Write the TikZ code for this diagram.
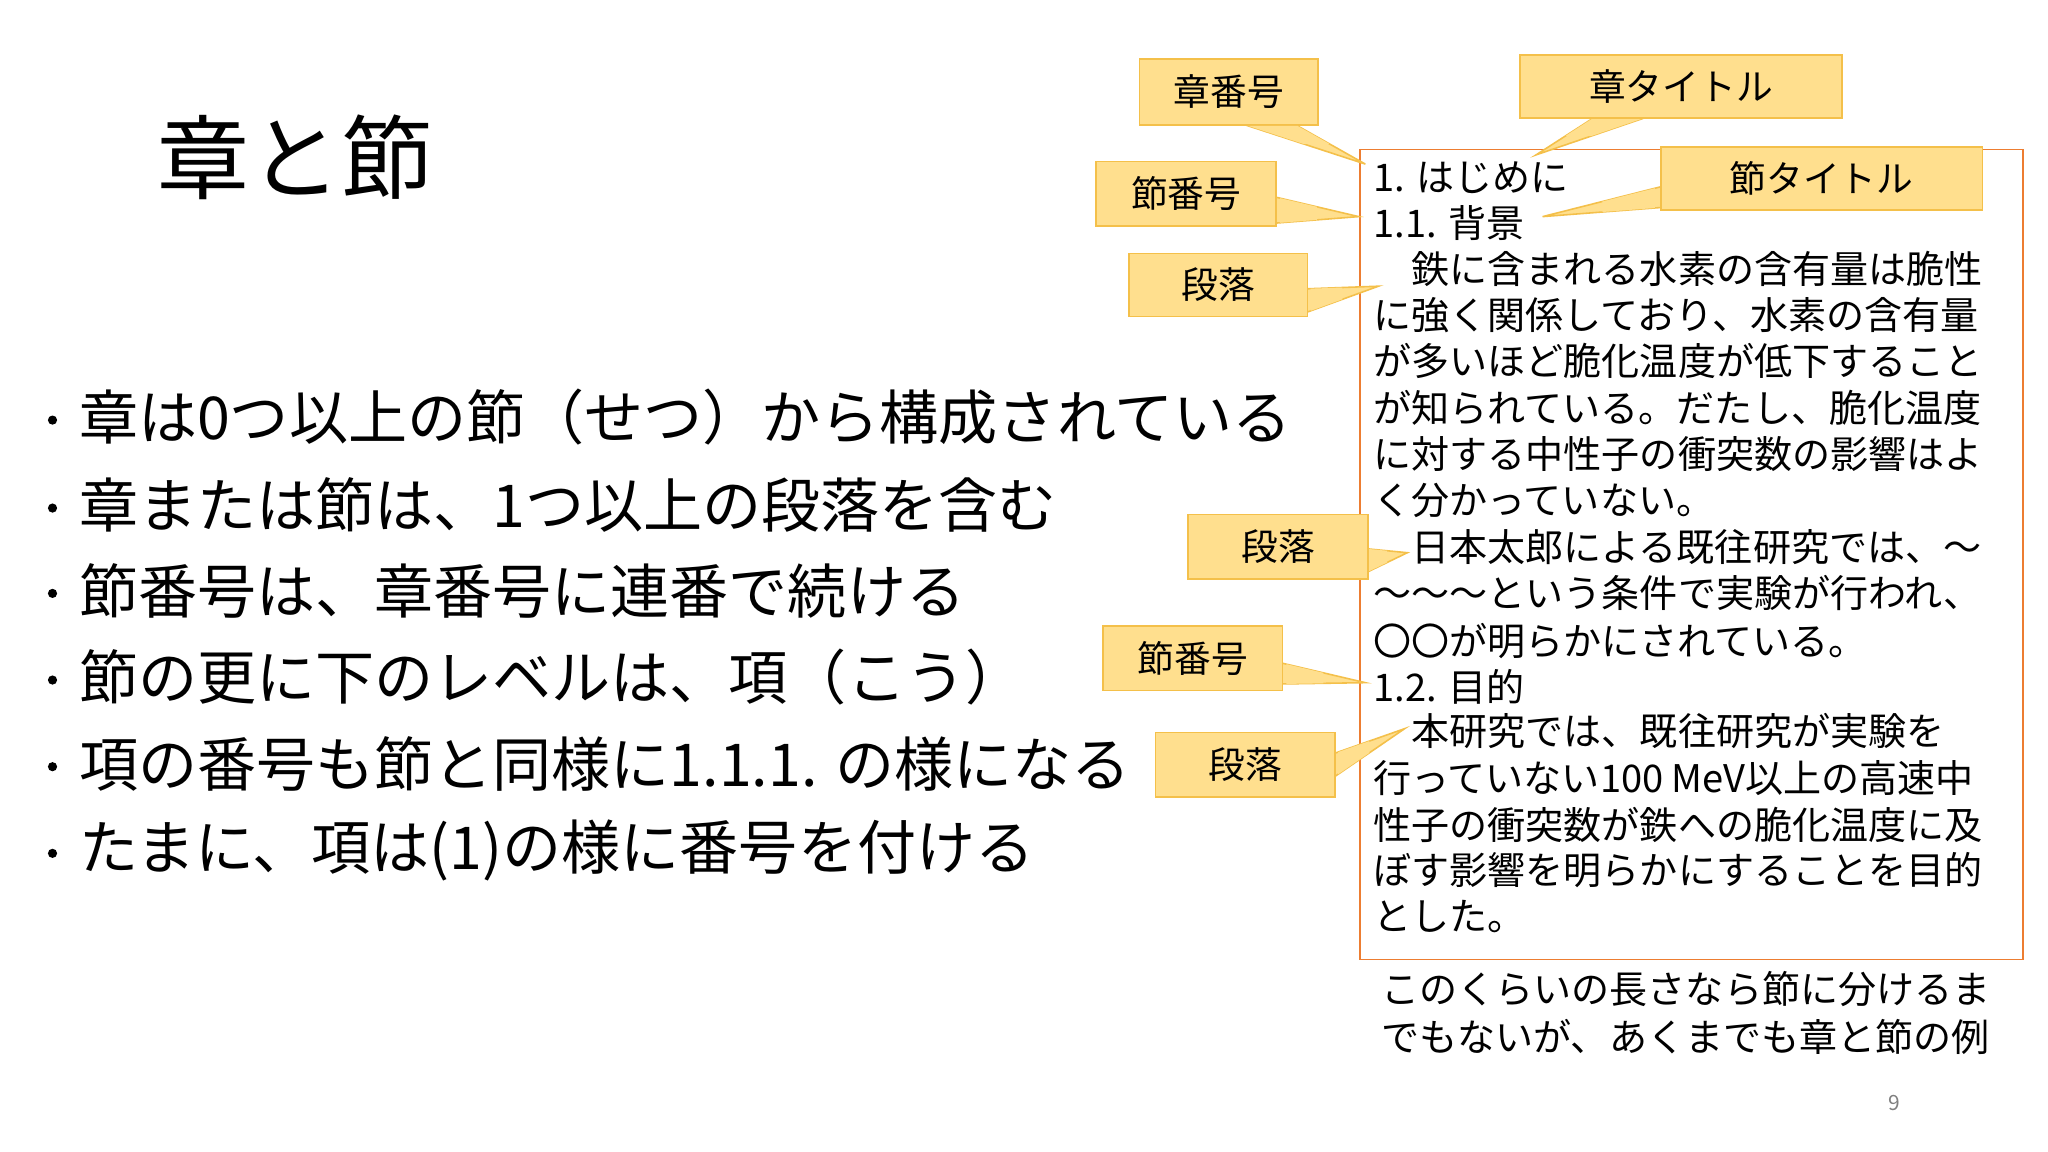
\documentclass[tikz,border=0pt]{standalone}
\usepackage{fontspec}
\setmainfont{Noto Sans CJK JP}
\definecolor{cfill}{HTML}{FFDF8E}
\definecolor{cline}{HTML}{F4C04A}
\definecolor{boxline}{HTML}{ED7D31}
\newcommand{\fs}[1]{\fontsize{#1}{#1}\selectfont}
\newcommand{\mycallout}[8]{%
  \fill[cfill] (#5) -- (#7) -- (#6) -- cycle;
  \draw[cline,line width=1.2pt] (#5) -- (#7) -- (#6);
  \node[draw=cline,fill=cfill,line width=1.2pt,minimum width=#3,minimum height=#4,inner sep=0pt,font=\fs{28}] (#1) at (#2) {#8};
  \fill[cfill] ($(#5)!0.06!(#7)$) -- ($(#7)!0.5!(#5)$) -- ($(#7)!0.5!(#6)$) -- ($(#6)!0.06!(#7)$) -- cycle;
}
\usetikzlibrary{calc}
\begin{document}
\begin{tikzpicture}[x=1pt,y=-1pt,
  boxtxt/.style={anchor=west,inner sep=0pt,font=\fs{29}},
  bul/.style={anchor=west,inner sep=0pt,font=\fs{45}}]
\useasboundingbox (0,0) rectangle (1560,877.5);
\fill[white] (0,0) rectangle (1560,877.5);
\node[inner sep=0pt,font=\fs{70}] (title) at (225,120) {章と節};
\foreach \y/\t [count=\i] in {318/章は0つ以上の節（せつ）から構成されている,385/章または節は、1つ以上の段落を含む,450/節番号は、章番号に連番で続ける,516/節の更に下のレベルは、項（こう）,582/項の番号も節と同様に1.1.1. の様になる,648/たまに、項は(1)の様に番号を付ける}{
  \fill (40,\y+2) circle (3.5) coordinate (b\i);
  \node[bul] (t\i) at (60,\y) {\t};
}
\node[draw=boxline,line width=1pt,minimum width=505,minimum height=617,inner sep=0pt] (box) at (1288.5,422.5) {};
\foreach \y/\t [count=\i] in {135/1. はじめに,170/1.1. 背景,205/　鉄に含まれる水素の含有量は脆性,240/に強く関係しており、水素の含有量,275/が多いほど脆化温度が低下すること,311/が知られている。だたし、脆化温度,346/に対する中性子の衝突数の影響はよ,381/く分かっていない。,417/　日本太郎による既往研究では、〜,452/〜〜〜という条件で実験が行われ、,488/〇〇が明らかにされている。,523/1.2. 目的,557/　本研究では、既往研究が実験を,593/行っていない100 MeV以上の高速中,628/性子の衝突数が鉄への脆化温度に及,663/ぼす影響を明らかにすることを目的,698/とした。}{
  \node[boxtxt] (l\i) at (1046,\y) {\t};
}
\node[boxtxt] (n1) at (1052,753) {このくらいの長さなら節に分けるま};
\node[boxtxt] (n2) at (1052,790) {でもないが、あくまでも章と節の例};
\node[inner sep=0pt,font=\fs{16},text=gray] (pg) at (1443,840) {9};
\mycallout{c1}{936,70}{136}{50}{945,94}{985,94}{1040,125}{章番号}
\mycallout{c2}{1280.5,66}{245}{48}{1215,89}{1255,89}{1170,118}{章タイトル}
\mycallout{c3}{903.5,147.5}{137}{49}{971,150}{971,170}{1035,165}{節番号}
\mycallout{c4}{1387.5,136}{245}{48}{1266,142}{1266,158}{1175,165}{節タイトル}
\mycallout{c5}{928,217}{136}{48}{995,220}{995,238}{1050,218}{段落}
\mycallout{c6}{973.5,416.5}{137}{49}{1041,418}{1041,436}{1072,421}{段落}
\mycallout{c7}{908.5,501.5}{137}{49}{976,505}{976,521}{1040,520}{節番号}
\mycallout{c8}{948.5,582.5}{137}{49}{1016,574}{1016,592}{1070,555}{段落}
\end{tikzpicture}
\end{document}
